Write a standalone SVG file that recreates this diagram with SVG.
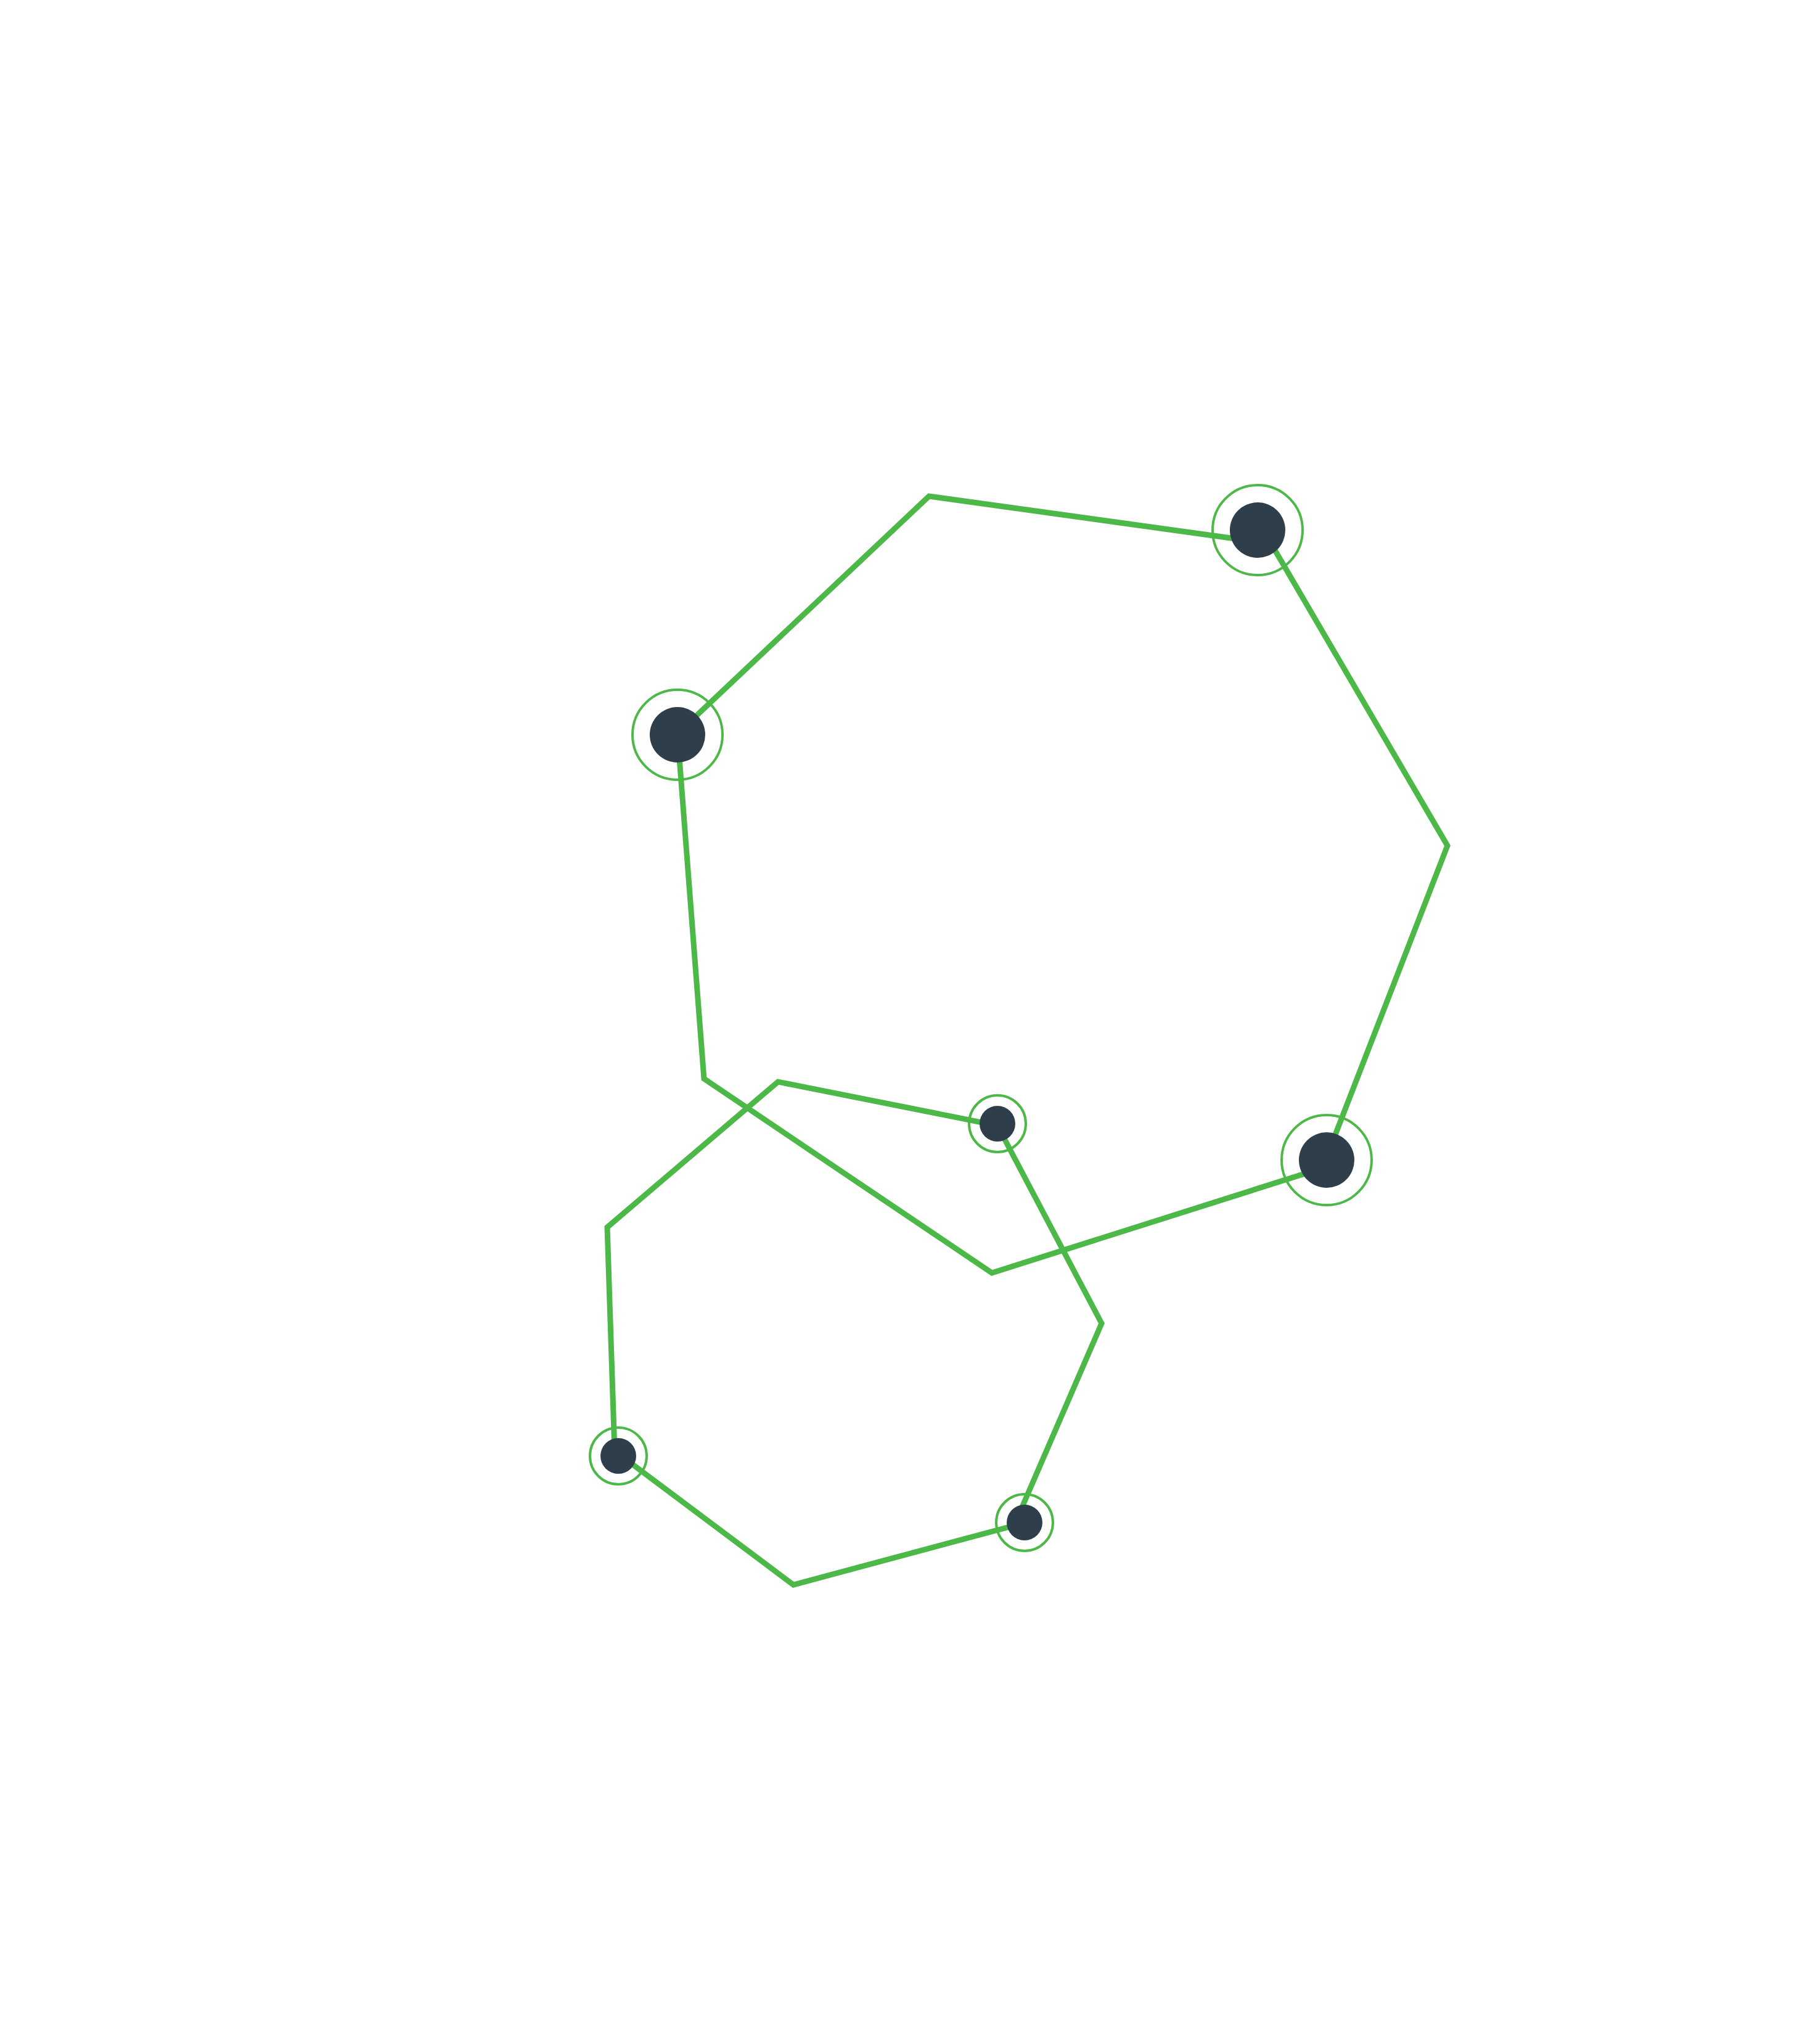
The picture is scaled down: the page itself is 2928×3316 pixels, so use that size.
<svg xmlns="http://www.w3.org/2000/svg" width="2928" height="3316" viewBox="0 0 2928 3316">
<style>
.edge{fill:none;stroke:#4cb848;stroke-width:9;stroke-linejoin:miter}
.ring{fill:none;stroke:#4cb848;stroke-width:4}
.dot{fill:#2e3f4b}
</style>
<rect width="2928" height="3316" fill="#ffffff"/>
<g id="connectors">
<polygon class="edge" points="2062,882 2348,1372 2145,1895 1609,2065 1142,1750 1099,1190 1507,805"/>
<polygon class="edge" points="1618,1826 1787,2147 1645,2475 1287,2571 997,2354 985,1991 1262,1755"/>
</g>
<g id="node-a"><circle class="ring" cx="2040" cy="860" r="73"/><circle class="dot" cx="2040" cy="860" r="45"/></g>
<g id="node-b"><circle class="ring" cx="1099" cy="1192" r="73"/><circle class="dot" cx="1099" cy="1192" r="45"/></g>
<g id="node-c"><circle class="ring" cx="2152" cy="1882" r="73"/><circle class="dot" cx="2152" cy="1882" r="45"/></g>
<g id="node-d"><circle class="ring" cx="1618" cy="1823" r="46"/><circle class="dot" cx="1618" cy="1823" r="29"/></g>
<g id="node-e"><circle class="ring" cx="1003" cy="2362" r="46"/><circle class="dot" cx="1003" cy="2362" r="29"/></g>
<g id="node-f"><circle class="ring" cx="1662" cy="2470" r="46"/><circle class="dot" cx="1662" cy="2470" r="29"/></g>
</svg>
